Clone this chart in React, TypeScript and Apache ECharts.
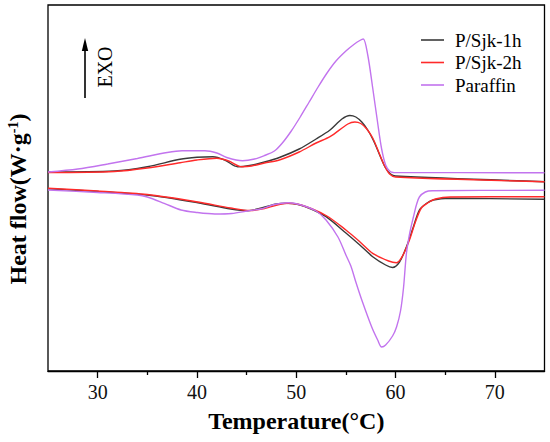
import React, { useEffect, useRef } from "react";
import * as echarts from "echarts";

// Heat-flow curves (arbitrary units, no y tick labels in the original)
const sjk1HeatT = [25, 31.7, 35, 38.3, 40, 41.6, 42.8, 44.1, 45.3, 46.8, 48.3, 50.3, 52, 53.4, 54.6, 55.4, 56.0, 56.6, 57.2, 57.8, 58.4, 59.0, 59.5, 60.0, 75];
const sjk1HeatV = [199, 200, 204.3, 211.7, 213.7, 214.3, 211, 204.3, 205.5, 209, 213.5, 222, 232, 241, 252, 255.5, 254, 249, 241, 230, 216, 203, 197, 195, 189.3];

const sjk2HeatT = [25, 31.7, 35, 38.3, 40, 42, 43.2, 44.5, 45.5, 46.8, 48.3, 50.3, 52, 53.4, 55.2, 55.9, 56.5, 57.1, 57.7, 58.3, 58.9, 59.4, 60.0, 75];
const sjk2HeatV = [198.5, 199.5, 203, 208.3, 211, 212.7, 210, 204.3, 205, 208, 211, 219, 228, 234.3, 247, 249, 247.5, 242, 233, 219, 205, 197, 194, 189.3];

const parHeatT = [25, 28, 31, 34, 37, 38.5, 40.8, 42, 43, 44.6, 45.8, 46.8, 47.8, 48.6, 49.5, 50.4, 51.3, 52.2, 53.1, 54.0, 55.0, 55.8, 56.4, 56.75, 57.2, 57.7, 58.2, 58.6, 59.0, 59.4, 59.8, 75];
const parHeatV = [199, 202, 207, 212.5, 218.5, 220.3, 220.3, 218, 213.5, 210.3, 212, 215.5, 220, 228, 240, 254, 269, 284, 298, 310, 320, 326.5, 330.5, 332, 316, 283, 248, 222, 206, 200, 198.5, 198.3];

const sjk1CoolT = [25, 30, 35, 40.1, 43.4, 45.1, 46.5, 48, 49, 50.2, 51.5, 53, 55, 56.4, 57.7, 59, 59.7, 60.4, 61.1, 61.8, 62.4, 63.1, 63.8, 65.4, 75];
const sjk1CoolV = [182.3, 179.5, 176, 168.3, 162, 160.3, 163, 167, 167.7, 166.5, 162, 154.3, 138, 126, 114.3, 106, 103.5, 109, 124.3, 144.3, 161, 167.5, 171, 172.7, 171.7];

const sjk2CoolT = [25, 30, 35, 40.1, 43.4, 45.3, 46.8, 48.5, 49.2, 50.5, 53, 55, 56.4, 57.7, 59.3, 60.1, 60.7, 61.4, 62, 62.6, 63.3, 64, 65.5, 75];
const sjk2CoolV = [182.8, 180, 176.5, 169, 163, 160.5, 162.5, 167, 167.7, 166, 155.5, 141, 129.3, 117.7, 110, 108.3, 115, 131, 149, 163, 168.5, 172, 174, 174.3];

const parCoolT = [25, 30, 34, 35, 36.7, 38.4, 40, 41.8, 43.5, 45.1, 46.4, 47.8, 49.2, 50.5, 52, 53, 54.2, 55.0, 55.5, 56.0, 56.6, 57.6, 58.2, 58.6, 59.0, 59.7, 60.1, 60.5, 60.8, 61.1, 61.45, 61.8, 62.1, 62.4, 63.0, 63.7, 75];
const parCoolV = [181, 178.5, 176, 174, 167.7, 161, 158.5, 157, 157.5, 160, 162, 166.5, 168.3, 166, 160, 151, 134, 116, 105, 89, 71, 44, 31, 24, 26, 35, 44, 60, 83, 118, 139, 154, 166, 174, 179, 180.3, 180.7];

const seriesNames = ["P/Sjk-1h", "P/Sjk-2h", "Paraffin"];
const majorTicks = [30, 40, 50, 60, 70];
const minorTicks = [35, 45, 55, 65];

const colors = ["#3a3a3a", "#ff2a2a", "#c274ee"];

const zip = (t: number[], v: number[]) => t.map((x, i) => [x, v[i]]);

const FONT = "Liberation Serif";

export default function App() {
  const ref = useRef<HTMLDivElement>(null);
  useEffect(() => {
    if (!ref.current) return;
    const chart = echarts.init(ref.current, null, { renderer: "svg" });
    const curves = [
      { name: seriesNames[0], data: zip(sjk1HeatT, sjk1HeatV), c: 0 },
      { name: seriesNames[1], data: zip(sjk2HeatT, sjk2HeatV), c: 1 },
      { name: seriesNames[2], data: zip(parHeatT, parHeatV), c: 2 },
      { name: seriesNames[0], data: zip(sjk1CoolT, sjk1CoolV), c: 0 },
      { name: seriesNames[1], data: zip(sjk2CoolT, sjk2CoolV), c: 1 },
      { name: seriesNames[2], data: zip(parCoolT, parCoolV), c: 2 },
    ];
    const legendItems: any[] = [];
    seriesNames.forEach((n, i) => {
      const y = 40 + i * 22.5;
      legendItems.push({
        type: "line",
        shape: { x1: 421, y1: y, x2: 444, y2: y },
        style: { stroke: colors[i], lineWidth: 1.6 },
      });
      legendItems.push({
        type: "text",
        x: 455,
        y: y,
        style: {
          text: n,
          fontFamily: "Times New Roman",
          fontSize: 19,
          fontWeight: "normal",
          fill: "#000",
          align: "left",
          verticalAlign: "middle",
        },
      });
    });
    chart.setOption({
      animation: false,
      backgroundColor: "#fff",
      textStyle: { fontFamily: FONT },
      grid: {
        left: 48,
        right: 5.5,
        top: 5,
        bottom: 71,
        show: true,
        borderColor: "#000",
        borderWidth: 1.3,
        backgroundColor: "transparent",
      },
      xAxis: [
        {
          type: "value",
          min: 25,
          max: 75,
          position: "bottom",
          axisLine: { show: true, onZero: false, lineStyle: { color: "#000", width: 1.3 } },
          axisTick: { show: true, inside: false, length: 7, customValues: majorTicks, lineStyle: { color: "#000", width: 1.3 } },
          axisLabel: { show: true, customValues: majorTicks, margin: 11, fontFamily: FONT, fontSize: 20, color: "#111" },
          splitLine: { show: false },
          name: "Temperature(°C)",
          nameLocation: "middle",
          nameGap: 38,
          nameTextStyle: { fontFamily: FONT, fontSize: 24, fontWeight: "bold", color: "#000" },
        },
        {
          type: "value",
          min: 25,
          max: 75,
          position: "bottom",
          offset: 0,
          axisLine: { show: false },
          axisTick: { show: true, inside: false, length: 4, customValues: minorTicks, lineStyle: { color: "#000", width: 1.3 } },
          axisLabel: { show: false },
          splitLine: { show: false },
        },
      ],
      yAxis: {
        type: "value",
        min: 0,
        max: 366,
        show: false,
      },
      series: curves.map((s) => ({
        type: "line",
        name: s.name,
        data: s.data,
        xAxisIndex: 0,
        showSymbol: false,
        symbol: "none",
        smooth: 0.3,
        lineStyle: { color: colors[s.c], width: 1.4 },
        itemStyle: { color: colors[s.c] },
      })),
      graphic: [
        ...legendItems,
        {
          type: "line",
          shape: { x1: 85, y1: 98, x2: 85, y2: 48 },
          style: { stroke: "#000", lineWidth: 1.6 },
        },
        {
          type: "polygon",
          shape: { points: [[85, 38], [81.8, 51], [88.2, 51]] },
          style: { fill: "#000" },
        },
        {
          type: "text",
          x: 105,
          y: 67,
          rotation: Math.PI / 2,
          style: {
            text: "EXO",
            fontFamily: "Times New Roman",
            fontSize: 20,
            fill: "#000",
            align: "center",
            verticalAlign: "middle",
          },
        },
        {
          type: "text",
          x: 18,
          y: 199,
          rotation: Math.PI / 2,
          style: {
            text: "{b|Heat flow(W·g}{s|-1}{b|)}",
            fill: "#000",
            align: "center",
            verticalAlign: "middle",
            rich: {
              b: { fontFamily: FONT, fontSize: 24, fontWeight: "bold", fill: "#000" },
              s: { fontFamily: FONT, fontSize: 14, fontWeight: "bold", fill: "#000", verticalAlign: "top" },
            },
          },
        },
      ],
    });
    return () => chart.dispose();
  }, []);
  return (
    <div
      ref={ref}
      style={{ position: "fixed", left: 0, top: 0, width: 550, height: 442, background: "#fff" }}
    />
  );
}
